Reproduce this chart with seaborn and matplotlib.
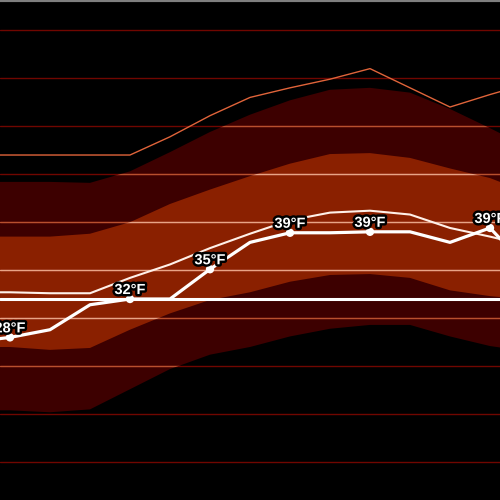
import numpy as np
import pandas as pd
import matplotlib
matplotlib.use("Agg")
import matplotlib.pyplot as plt
import matplotlib.patheffects as pe
import seaborn as sns

# period index (-1 and 13 lie just outside the visible range)
periods = list(range(-1, 14))
# forecast temperature (thick line), °F
forecast = [27.5, 28.0, 28.8, 31.4, 32.0, 32.0, 35.1, 37.9, 38.9, 38.9, 39.0, 39.0, 37.9, 39.4, 35.0]
# normal / mean (thin white line)
normal = [32.7, 32.7, 32.6, 32.6, 34.2, 35.6, 37.3, 38.8, 40.2, 41.0, 41.2, 40.8, 39.4, 38.5, 37.5]
# record high (thin orange line)
record_high = [47.0, 47.0, 47.0, 47.0, 47.0, 48.9, 51.1, 53.0, 54.0, 54.9, 56.0, 54.0, 52.0, 53.3, 54.5]
# outer band (dark)
outer_hi = [44.2, 44.2, 44.2, 44.1, 45.3, 47.3, 49.4, 51.2, 52.7, 53.8, 54.0, 53.5, 51.8, 49.8, 47.7]
outer_lo = [20.4, 20.4, 20.2, 20.5, 22.6, 24.7, 26.2, 27.0, 28.1, 28.9, 29.3, 29.3, 28.1, 27.1, 26.5]
# inner band (red)
inner_hi = [38.5, 38.5, 38.5, 38.8, 40.0, 41.9, 43.4, 44.8, 46.1, 47.1, 47.2, 46.7, 45.6, 44.6, 43.0]
inner_lo = [27.0, 27.0, 26.7, 26.9, 28.8, 30.5, 31.9, 32.7, 33.8, 34.5, 34.6, 34.2, 32.9, 32.3, 31.9]
# labelled points
label_idx = [0, 3, 5, 7, 9, 12]
label_vals = [28, 32, 35, 39, 39, 39]
freezing = 32
grid_vals = [15, 20, 25, 30, 35, 40, 45, 50, 55, 60]

df = pd.DataFrame({"period": periods, "forecast": forecast, "normal": normal,
                   "record": record_high})

sns.set_theme(style="dark")
fig = plt.figure(figsize=(5, 5), dpi=100)
fig.patch.set_facecolor("black")
ax = fig.add_axes([0, 0, 1, 1])
ax.set_facecolor("black")

outer = ax.fill_between(periods, outer_lo, outer_hi, color="#3d0000", lw=0, zorder=1)
inner = ax.fill_between(periods, inner_lo, inner_hi, color="#8a2000", lw=0, zorder=2)

for g in grid_vals:
    ax.axhline(g, color="#700600", lw=1, zorder=3)
    l2 = ax.axhline(g, color="#b8502e", lw=1, zorder=3.1)
    l2.set_clip_path(outer.get_paths()[0], ax.transData)
    l3 = ax.axhline(g, color="#e8a486", lw=1, zorder=3.2)
    l3.set_clip_path(inner.get_paths()[0], ax.transData)

ax.axhline(freezing, color="white", lw=2.2, zorder=4)

sns.lineplot(data=df, x="period", y="record", ax=ax, color="#e0643a", lw=1.0,
             zorder=5, legend=False)
sns.lineplot(data=df, x="period", y="normal", ax=ax, color="#fff0e8", lw=1.5,
             zorder=5, legend=False)
sns.lineplot(data=df, x="period", y="forecast", ax=ax, color="white", lw=2.3,
             zorder=6, legend=False)

lab = pd.DataFrame({"period": [periods[i + 1] for i in label_idx],
                    "val": [forecast[i + 1] for i in label_idx]})
sns.scatterplot(data=lab, x="period", y="val", ax=ax, color="white", s=36,
                edgecolor="none", zorder=7, legend=False)
for x, y, v in zip(lab["period"], lab["val"], label_vals):
    ax.annotate(f"{v}°F", (x, y), xytext=(0, 3.6), textcoords="offset points",
                ha="center", va="baseline", color="white", fontsize=10.5,
                fontweight="bold", family="Liberation Sans", zorder=8,
                path_effects=[pe.withStroke(linewidth=3.5, foreground="black")])

ax.set_xlim(-0.25, 12.25)
ax.set_ylim(11.06, 63.15)
ax.set_xticks([])
ax.set_yticks([])
ax.set_xlabel("")
ax.set_ylabel("")
ax.grid(False)
for s in ["left", "right", "bottom"]:
    ax.spines[s].set_visible(False)
ax.spines["top"].set_color("#7f7f7f")
ax.spines["top"].set_linewidth(3)

fig.savefig("out.png", dpi=100, facecolor="black")
